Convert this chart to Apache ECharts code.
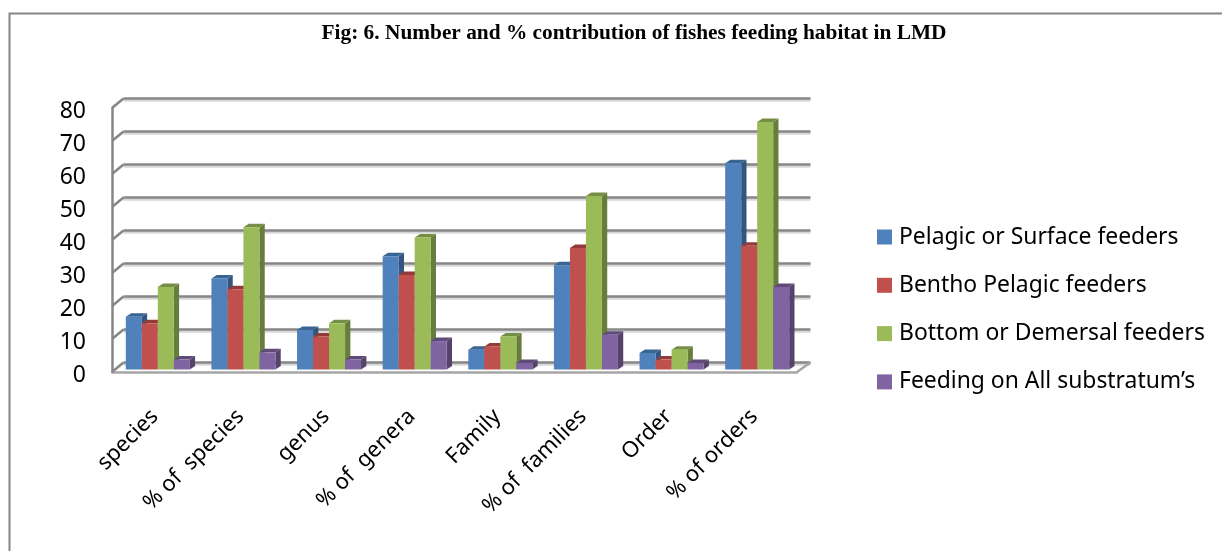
<!DOCTYPE html>
<html>
<head>
<meta charset="utf-8">
<style>html,body{margin:0;padding:0;background:#fff}#chart{width:1222px;height:551px}</style>
<script src="https://cdn.jsdelivr.net/npm/echarts@6/dist/echarts.min.js"></script>
</head>
<body>
<div id="chart"></div>
<script>
const categories = ['species', '% of  species', 'genus', '% of  genera', 'Family', '% of  families', 'Order', '% of orders'];
const pelagic = [16, 27.6, 12, 34.3, 6, 31.6, 5, 62.5];
const benthoPelagic = [14, 24.3, 10, 28.6, 7, 36.8, 3, 37.5];
const demersal = [25, 43.1, 14, 40, 10, 52.6, 6, 75];
const allSubstratum = [3, 5.2, 3, 8.6, 2, 10.5, 2, 25];
const yTicks = [0, 10, 20, 30, 40, 50, 60, 70, 80];

const seriesDefs = [
  { name: 'Pelagic or Surface feeders', data: pelagic, face: '#4F81BD', side: '#34557E', top: '#386592' },
  { name: 'Bentho Pelagic feeders', data: benthoPelagic, face: '#C0504D', side: '#803533', top: '#943B39' },
  { name: 'Bottom or Demersal feeders', data: demersal, face: '#9BBB59', side: '#677D3B', top: '#768E44' },
  { name: 'Feeding on All substratum\u2019s', data: allSubstratum, face: '#8064A2', side: '#55436C', top: '#5F4A79' }
];

const WALL = '#868686';
const TEXT = '#000';
const LABEL_FONT = 'Noto Sans';
const BAR_W = 16;
const DEPTH_X = 5.3, DEPTH_Y = 3.5;
const INSET_X = 3, INSET_Y = 2.5;
const WALL_X = 11.5, WALL_Y = 9.5;

// One group of a 3-D column: front face, top cap and right side
function columnRenderer(index, def) {
  return function (params, api) {
    const c = api.value(0);
    const base = api.coord([c, 0]);
    const head = api.coord([c, api.value(1)]);
    const x = base[0] + INSET_X + (index - 2) * BAR_W;
    const y0 = base[1] - INSET_Y;
    const y1 = head[1] - INSET_Y;
    return {
      type: 'group',
      children: [
        { type: 'polygon', shape: { points: [[x + BAR_W, y0], [x + BAR_W + DEPTH_X, y0 - DEPTH_Y], [x + BAR_W + DEPTH_X, y1 - DEPTH_Y], [x + BAR_W, y1]] }, style: { fill: def.side } },
        { type: 'polygon', shape: { points: [[x, y1], [x + DEPTH_X, y1 - DEPTH_Y], [x + BAR_W + DEPTH_X, y1 - DEPTH_Y], [x + BAR_W, y1]] }, style: { fill: def.top } },
        { type: 'rect', shape: { x: x, y: y1, width: BAR_W, height: y0 - y1 }, style: { fill: def.face } }
      ]
    };
  };
}

// Short diagonals joining the front axis to the back wall, plus the floor's right edge
function wallRenderer(params, api) {
  const p = api.coord([0, api.value(0)]);
  const left = p[0] - api.size([1, 0])[0] / 2;
  return {
    type: 'line',
    shape: { x1: left, y1: p[1], x2: left + WALL_X, y2: p[1] - WALL_Y },
    style: { stroke: WALL, lineWidth: 2.5 }
  };
}
function floorEdgeRenderer(params, api) {
  const p = api.coord([categories.length - 1, 0]);
  const right = p[0] + api.size([1, 0])[0] / 2;
  return {
    type: 'line',
    shape: { x1: right, y1: p[1], x2: right + WALL_X + 2, y2: p[1] - WALL_Y },
    style: { stroke: '#A6A6A6', lineWidth: 2.5 }
  };
}

const chart = echarts.init(document.getElementById('chart'));
chart.setOption({
  animation: false,
  backgroundColor: '#fff',
  title: {
    text: 'Fig: 6. Number and % contribution of fishes feeding habitat in LMD',
    left: 629, top: 18, textAlign: 'center',
    textStyle: { fontFamily: 'Liberation Serif', fontWeight: 'bold', fontSize: 21.35, color: '#000' }
  },
  legend: {
    orient: 'vertical', left: 872, top: 220,
    itemWidth: 15, itemHeight: 15, itemGap: 24.3,
    icon: 'rect',
    textStyle: { fontFamily: LABEL_FONT, fontSize: 22.9, lineHeight: 24, color: TEXT, padding: [0, 0, 0, 2] },
    data: seriesDefs.map(d => ({ name: d.name, itemStyle: { color: d.face } }))
  },
  grid: [
    { left: 112, top: 108, width: 685, height: 264 },
    { left: 123.5, top: 98.5, width: 687, height: 264 }
  ],
  xAxis: [
    {
      type: 'category', gridIndex: 0, data: categories,
      axisTick: { show: false },
      axisLine: { lineStyle: { color: '#A6A6A6', width: 2.5 } },
      axisLabel: { rotate: 45, margin: 41, interval: 0, fontFamily: LABEL_FONT, fontSize: 22, color: TEXT }
    },
    { type: 'category', gridIndex: 1, data: categories, show: false }
  ],
  yAxis: [
    {
      type: 'value', gridIndex: 0, min: 0, max: 80, interval: 10,
      splitLine: { show: false },
      axisTick: { show: false },
      axisLine: { show: true, lineStyle: { color: WALL, width: 2.5 } },
      axisLabel: {
        margin: 26, formatter: '{n|{value}}',
        rich: { n: { fontFamily: LABEL_FONT, fontSize: 23, color: TEXT, padding: [6, 0, 0, 0] } }
      }
    },
    {
      type: 'value', gridIndex: 1, min: 0, max: 80, interval: 10,
      axisLine: { show: false }, axisTick: { show: false }, axisLabel: { show: false },
      splitLine: { show: true, lineStyle: { color: WALL, width: 2.5, shadowColor: 'rgba(0,0,0,0.16)', shadowOffsetY: 2, shadowBlur: 0 } }
    }
  ],
  series: [
    {
      type: 'custom', xAxisIndex: 0, yAxisIndex: 0, silent: true, z: 1,
      encode: { y: 0 }, data: yTicks.map(v => [v]), renderItem: wallRenderer
    },
    {
      type: 'custom', xAxisIndex: 0, yAxisIndex: 0, silent: true, z: 1,
      data: [[0]], renderItem: floorEdgeRenderer
    }
  ].concat(seriesDefs.map((def, i) => ({
    type: 'custom', name: def.name, xAxisIndex: 0, yAxisIndex: 0, z: 3 + i,
    itemStyle: { color: def.face },
    encode: { x: 0, y: 1 },
    data: def.data.map((v, c) => [c, v]),
    renderItem: columnRenderer(i, def)
  }))),
  graphic: [
    {
      type: 'polyline', silent: true, z: 0,
      shape: { points: [[9.5, 551], [9.5, 13.5], [1222, 13.5]] },
      style: { fill: 'none', stroke: '#868686', lineWidth: 2 }
    }
  ]
});
</script>
</body>
</html>
